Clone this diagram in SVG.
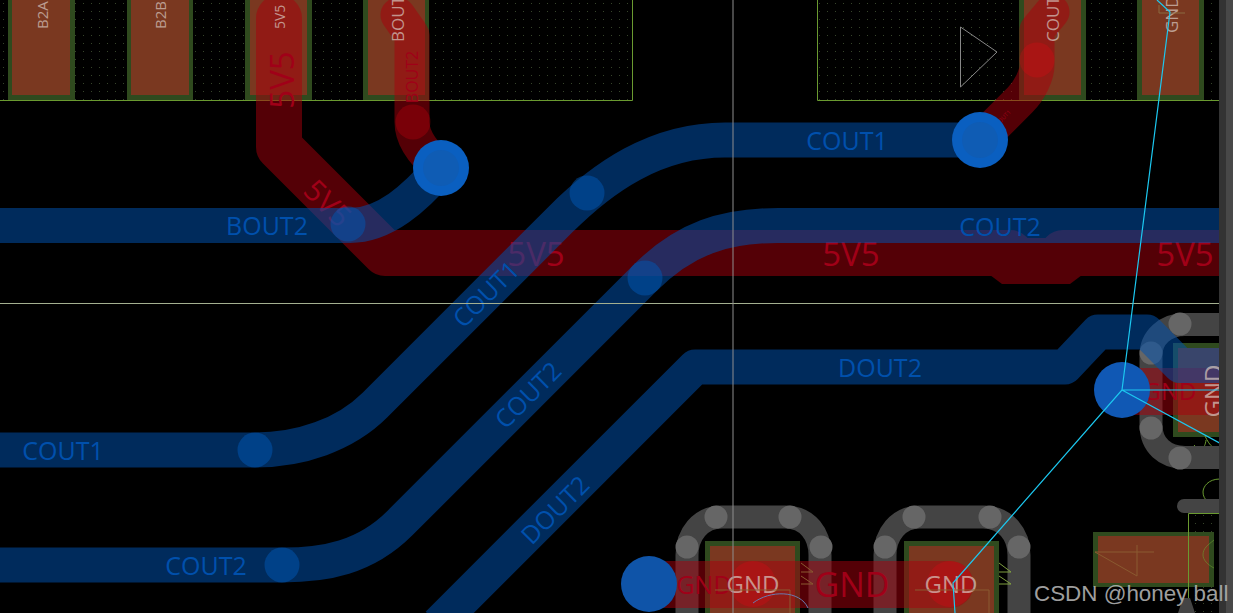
<svg xmlns="http://www.w3.org/2000/svg" width="1233" height="613" viewBox="0 0 1233 613">
<defs>
<pattern id="dots" width="8" height="8" patternUnits="userSpaceOnUse"><rect x="3" y="3" width="1" height="1" fill="#36442a"/></pattern>
<clipPath id="board"><rect width="1220" height="613"/></clipPath>
</defs>
<style>
.po{fill:#2f4a1e}
.pi{fill:#7a3820}
.ring{fill:none;stroke:#444;stroke-width:23}
.gv{fill:#666}
.rt{fill:none;stroke:#a8000c;stroke-linejoin:round;stroke-linecap:round}
.bt{fill:none;stroke:#0051ae;stroke-width:35;stroke-linejoin:round}
.rv{fill:#ff0010;opacity:.22}
.bv{fill:#0058b4;opacity:.5}
.big{fill:#0a5fc0}
.bigi{fill:#0f5cb4}
.t{font-family:"Open Sans","Noto Sans",sans-serif}
.bl{fill:#0050ac;font-size:25px;text-anchor:middle}
.rd{fill:#a00018;font-size:33px;text-anchor:middle}
.wh{fill:#d8c8c0;opacity:.7}
.thin{fill:none;stroke-width:1}
.cy{fill:none;stroke:#1cc8f0;stroke-width:1.2}
</style>
<rect width="1233" height="613" fill="#000"/>
<g id="board-area" clip-path="url(#board)">
<g id="courtyards">
<rect x="-5" y="-5" width="637" height="105" fill="url(#dots)"/>
<rect x="817" y="-5" width="410" height="105" fill="url(#dots)"/>
<rect x="1188" y="513" width="40" height="105" fill="url(#dots)"/>
</g>
<g id="pads">
<rect class="po" x="8" y="-5" width="67" height="105"/><rect class="pi" x="12" y="-5" width="58" height="100"/>
<rect class="po" x="127" y="-5" width="66" height="105"/><rect class="pi" x="131" y="-5" width="58" height="100"/>
<rect class="po" x="245" y="-5" width="67" height="105"/><rect class="pi" x="250" y="-5" width="57" height="100"/>
<rect class="po" x="363" y="-5" width="66" height="105"/><rect class="pi" x="368" y="-5" width="57" height="100"/>
<rect class="po" x="1019" y="-5" width="67" height="105"/><rect class="pi" x="1024" y="-5" width="57" height="100"/>
<rect class="po" x="1137" y="-5" width="67" height="105"/><rect class="pi" x="1142" y="-5" width="57" height="100"/>
<rect class="po" x="705" y="541" width="95" height="80"/><rect class="pi" x="710" y="546" width="85" height="75"/>
<rect class="po" x="904" y="541" width="95" height="80"/><rect class="pi" x="909" y="546" width="85" height="75"/>
<rect class="po" x="1173" y="343" width="60" height="94"/><rect class="pi" x="1178" y="348" width="55" height="84"/>
<rect class="po" x="1093" y="532" width="121" height="55"/><rect class="pi" x="1098" y="536" width="111" height="47"/>
</g>
<g id="outlines" fill="none" stroke="#6a9a30" stroke-width="1">
<path d="M-1 100.500H632.500V-1"/>
<path d="M817.500 -1V100.500H1222"/>
<path d="M1188.500 613V513.500H1222"/>
<path d="M1220 479C1208 479 1203 487 1203 492C1203 500 1210 505 1220 505"/>
<path d="M1214 540C1208 545 1203 548 1203 555C1203 560 1208 565 1214 568" opacity=".6"/>
<path d="M1194 445C1200 452 1205 449 1206 440M1205 436C1210 447 1215 450 1222 451"/>
</g>
<g id="ground-rings">
<path class="ring" d="M687 620V555C687 535 700 517 722 517H785C808 517 820 535 820 555V620"/>
<path class="ring" d="M885 620V555C885 535 898 517 920 517H983C1006 517 1019 535 1019 555V620"/>
<path class="ring" d="M1225 324.500H1185C1165 324.500 1151 338 1151 355V425C1151 445 1165 457.500 1185 457.500H1225"/>
<path d="M1184 506H1225" fill="none" stroke="#444" stroke-width="14" stroke-linecap="round"/>
<path d="M1178 613L1183 598H1190L1195 613Z" fill="#444"/>
<circle class="gv" cx="687" cy="547" r="11.500"/><circle class="gv" cx="716" cy="517" r="11.500"/><circle class="gv" cx="790" cy="517" r="11.500"/><circle class="gv" cx="821" cy="547" r="11.500"/>
<circle class="gv" cx="885" cy="547" r="11.500"/><circle class="gv" cx="914" cy="517" r="11.500"/><circle class="gv" cx="990" cy="517" r="11.500"/><circle class="gv" cx="1019" cy="547" r="11.500"/>
<circle class="gv" cx="1180" cy="324" r="11.500"/><circle class="gv" cx="1151" cy="353" r="11.500"/><circle class="gv" cx="1151" cy="428" r="11.500"/><circle class="gv" cx="1180" cy="458" r="11.500"/>
</g>
<g id="red-connectors" opacity=".5">
<path class="rt" stroke-width="46" d="M279 18V147L385 253H1010L1018 261H1055L1063 253H1235"/>
<path d="M990 275L1002 284H1070L1082 275Z" fill="#a8000c"/>
<path class="rt" stroke-width="35" d="M398 15L412 35V122C412 140 425 155 441 168"/>
<path class="rt" stroke-width="35" d="M1052 12L1037 30V65C1037 75 1030 90 1020 100L980 140"/>
<path class="rt" stroke-width="47" d="M649 584.500H950"/>
<path class="rt" stroke-width="47" d="M1122 391.500H1235"/>
</g>
<g id="red-vias">
<circle class="rv" cx="413" cy="122" r="17.500"/>
<circle class="rv" cx="1037" cy="60" r="17.500"/>
<circle class="rv" cx="753" cy="584" r="23"/>
<circle class="rv" cx="950" cy="584" r="23"/>
</g>
<g id="red-labels" class="t">
<text class="rd" transform="rotate(-90 294 80)" x="294" y="80">5V5</text>
<text class="rd" x="536" y="266">5V5</text>
<text class="rd" x="851" y="266">5V5</text>
<text class="rd" x="1185" y="266">5V5</text>
<text class="rd" style="font-size:30px" transform="rotate(45 328 203)" x="328" y="214">5V5</text>
<text class="rd" style="font-size:16px" transform="rotate(-90 418 77)" x="418" y="77">BOUT2</text>
<text class="rd" style="font-size:6px" transform="rotate(-45 1003 118)" x="1003" y="120">COUT1</text>
<text class="rd" style="font-size:25px" x="704" y="594">GND</text>
<text class="rd" style="font-size:34px" x="852" y="597">GND</text>
<text class="rd" style="font-size:24px" x="1170" y="400">GND</text>
</g>
<g id="blue-connectors" opacity=".53">
<path class="bt" d="M-5 225.500H350C385 225.500 415 198 441 168"/>
<path class="bt" d="M-5 450H255C300 450 345 435 375 405L560 220C602 178 655 140 725 140H980"/>
<path class="bt" d="M-5 565H282C325 565 365 558 400 523L645 278C685 238 725 225.500 778 225.500H1235"/>
<path class="bt" d="M438 624L695 367H1065L1098 332H1147L1180 365.500H1235"/>
</g>
<g id="blue-vias">
<circle class="bv" cx="348" cy="224" r="17.500"/>
<circle class="bv" cx="587" cy="193" r="17.500"/>
<circle class="bv" cx="645" cy="278" r="17.500"/>
<circle class="bv" cx="255" cy="450" r="17.500"/>
<circle class="bv" cx="282" cy="565" r="17.500"/>
<circle class="big" cx="441" cy="168" r="28"/><circle class="bigi" cx="441" cy="168" r="18"/>
<circle class="big" cx="980" cy="140" r="28"/><circle class="bigi" cx="980" cy="140" r="18"/>
<circle class="big" cx="1122" cy="390" r="28" style="fill:#1058b4"/>
<circle class="big" cx="649" cy="584" r="28" style="fill:#0f54a8"/>
</g>
<g id="blue-labels" class="t">
<text class="bl" x="267" y="235">BOUT2</text>
<text class="bl" x="847" y="150">COUT1</text>
<text class="bl" x="1000" y="236">COUT2</text>
<text class="bl" x="880" y="377">DOUT2</text>
<text class="bl" x="63" y="460">COUT1</text>
<text class="bl" x="206" y="575">COUT2</text>
<text class="bl" transform="rotate(-45 486 294)" x="486" y="303">COUT1</text>
<text class="bl" transform="rotate(-45 528 395)" x="528" y="404">COUT2</text>
<text class="bl" transform="rotate(-45 555 510)" x="555" y="519">DOUT2</text>
</g>
<g id="pad-labels" class="t">
<text class="wh" font-size="15" transform="rotate(-90 48 29)" x="48" y="29">B2A</text>
<text class="wh" font-size="15" transform="rotate(-90 166 29)" x="166" y="29">B2B</text>
<text class="wh" font-size="14" transform="rotate(-90 285 29)" x="285" y="29">5V5</text>
<text class="wh" font-size="17" transform="rotate(-90 404 42)" x="404" y="42">BOUT2</text>
<text class="wh" font-size="17" transform="rotate(-90 1059 42)" x="1059" y="42">COUT1</text>
<text class="wh" font-size="17" transform="rotate(-90 1178 33)" x="1178" y="33">GND</text>
<text class="wh" font-size="24" text-anchor="middle" x="753" y="593">GND</text>
<text class="wh" font-size="24" text-anchor="middle" x="951" y="593">GND</text>
<text class="wh" font-size="24" text-anchor="middle" transform="rotate(-90 1222 391)" x="1222" y="391">GND</text>
</g>
<g id="footprint-marks">
<path class="thin" stroke="#888" d="M960.500 27L997 52L960.500 87Z"/>
<path class="thin" stroke="#8a5a30" d="M801 563L813 572H801M801 576L813 584H801"/>
<path class="thin" stroke="#80a040" d="M999 563L1011 572H999M999 576L1011 584H999"/>
<path class="thin" stroke="#8a5a30" d="M1095 552H1154M1137 545V576L1095 552"/>
<path class="thin" stroke="#8a5a30" d="M715 590H790V613M915 590H989V613"/>
<path class="thin" stroke="#6a7ab0" d="M753 603C770 590 800 590 808 608"/>
<path class="thin" stroke="#8a6a40" d="M1159 13H1185M1159 5V13"/>
</g>
<g id="crosshair">
<path d="M0 303.500H1220" stroke="#a4b090" stroke-width="1" fill="none"/>
<path d="M733 0V613" stroke="#8e8e8e" stroke-width="1" fill="none"/>
</g>
<g id="ratsnest">
<path class="cy" d="M1157 0L1170 12L1122 390L953 583L955 613"/>
<path class="cy" d="M1122 390H1225M1122 390L1225 446"/>
</g>
</g>
<g id="chrome">
<rect x="1219" y="0" width="7" height="613" fill="#333"/>
<rect x="1226" y="0" width="7" height="613" fill="#484848"/>
</g>
<text id="watermark" x="1034" y="601" font-family="'Liberation Sans',sans-serif" font-size="22.400" fill="#b0b0b0" opacity=".9">CSDN @honey ball</text>
</svg>
